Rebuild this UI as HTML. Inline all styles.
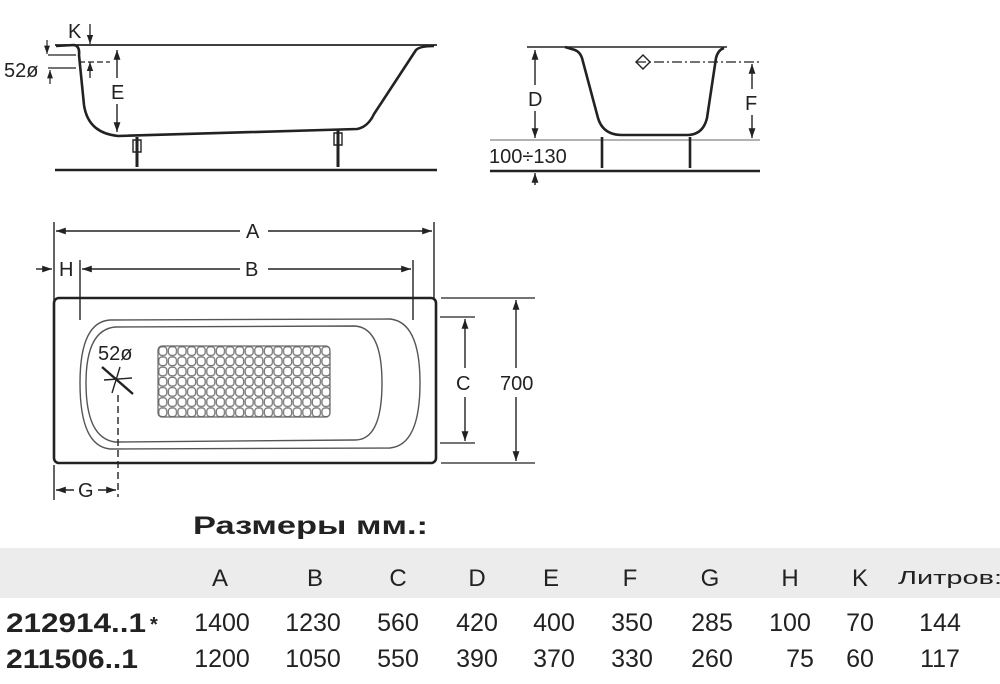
<!DOCTYPE html>
<html><head><meta charset="utf-8"><style>
html,body{margin:0;padding:0;background:#fff;}
svg{display:block;}
text{font-family:"Liberation Sans","DejaVu Sans",sans-serif;fill:#222;}
</style></head><body>
<svg width="1000" height="684" viewBox="0 0 1000 684" xmlns="http://www.w3.org/2000/svg">
<defs>
<marker id="ar" viewBox="0 0 10 10" refX="10" refY="5" markerWidth="7" markerHeight="7" orient="auto-start-reverse"><path d="M0,1.5 L10,5 L0,8.5z" fill="#222"/></marker>
<pattern id="grid" x="158" y="346" width="9.6" height="10.2" patternUnits="userSpaceOnUse"><rect x="0.8" y="0.8" width="8" height="8.6" rx="3" fill="none" stroke="#777" stroke-width="1.3"/></pattern>
</defs>
<g stroke="#222" fill="none" stroke-width="2">
<!-- side view -->
<line x1="55" y1="45" x2="437" y2="45" stroke-width="1.8"/>
<path d="M56,46 L74,45 Q80,46 79,55 L84,105 Q88,133 118,136 L357,129 Q368,127 374,114 L416,50 Q420,46 434,46" stroke-width="2.6"/>
<line x1="55" y1="170" x2="437" y2="170" stroke-width="2.4"/>
<path d="M137,137 V167 M338,130 V167" stroke-width="3"/>
<path d="M133,140 h8 v12 h-8z M334,133 h8 v12 h-8z" stroke-width="1.4"/>
<line x1="117" y1="50" x2="117" y2="132" stroke-width="1.4" marker-start="url(#ar)" marker-end="url(#ar)"/>
<line x1="90" y1="24" x2="90" y2="44" stroke-width="1.3" marker-end="url(#ar)"/>
<line x1="90" y1="62" x2="90" y2="78" stroke-width="1.3" marker-start="url(#ar)"/>
<line x1="79" y1="62" x2="110" y2="62" stroke-width="1.2" stroke-dasharray="6,3"/>
<line x1="47" y1="40" x2="47" y2="54" stroke-width="1.2" marker-end="url(#ar)"/>
<line x1="50" y1="70" x2="50" y2="84" stroke-width="1.2" marker-start="url(#ar)"/>
<path d="M48,55 h28 M48,68 h28" stroke-width="1.2"/>
<!-- end view -->
<line x1="527" y1="47" x2="727" y2="47" stroke-width="1.6"/>
<path d="M565,47 L575,50 Q580,52 582,58 L598,118 Q603,135 622,135 L687,135 Q703,135 707,118 L716,58 Q718,50 724,48" stroke-width="2.6"/>
<line x1="490" y1="140" x2="760" y2="140" stroke="#999" stroke-width="1.6"/>
<line x1="490" y1="171" x2="760" y2="171" stroke-width="2.4"/>
<path d="M602,137 V168 M690,137 V168" stroke-width="2.6"/>
<line x1="535" y1="50" x2="535" y2="138" stroke-width="1.4" marker-start="url(#ar)" marker-end="url(#ar)"/>
<line x1="535" y1="185" x2="535" y2="173" stroke-width="1.4" marker-end="url(#ar)"/>
<line x1="752" y1="64" x2="752" y2="138" stroke-width="1.4" marker-start="url(#ar)" marker-end="url(#ar)"/>
<line x1="636" y1="62" x2="762" y2="62" stroke-width="1.2" stroke-dasharray="10,3,2,3"/>
<path d="M643,55 L650,62 L643,69 L636,62z" stroke-width="1.4"/>
<!-- plan view -->
<rect x="54" y="298" width="382" height="165" rx="5" stroke-width="2.6"/>
<path d="M110,320 L390,319 Q420,322 420,383 Q420,445 390,448 L110,449 Q80,446 80,383 Q80,322 110,320z" stroke="#555" stroke-width="1.4"/>
<path d="M115,327 L355,326 Q382,328 382,383 Q382,440 355,440 L115,442 Q86,438 86,383 Q86,330 115,327z" stroke="#555" stroke-width="1.4"/>
<rect x="158" y="346" width="172" height="71" rx="4" fill="url(#grid)" stroke="#666" stroke-width="1.2"/>
<line x1="102" y1="367" x2="133" y2="394" stroke-width="2.4"/>
<line x1="120" y1="367" x2="112" y2="393" stroke-width="1.4"/>
<line x1="104" y1="380" x2="132" y2="378" stroke-width="1.4"/>
<line x1="118" y1="395" x2="118" y2="497" stroke-width="1.4" stroke-dasharray="7,4"/>
<line x1="54" y1="465" x2="54" y2="500" stroke-width="1.4"/>
<line x1="56" y1="490" x2="74" y2="490" stroke-width="1.4" marker-start="url(#ar)"/>
<line x1="98" y1="490" x2="116" y2="490" stroke-width="1.4" marker-end="url(#ar)"/>
<line x1="54" y1="222" x2="54" y2="300" stroke-width="1.4"/>
<line x1="434" y1="222" x2="434" y2="298" stroke-width="1.4"/>
<line x1="56" y1="231" x2="240" y2="231" stroke-width="1.4" marker-start="url(#ar)"/>
<line x1="268" y1="231" x2="432" y2="231" stroke-width="1.4" marker-end="url(#ar)"/>
<line x1="80" y1="260" x2="80" y2="320" stroke-width="1.4"/>
<line x1="413" y1="260" x2="413" y2="320" stroke-width="1.4"/>
<line x1="82" y1="269" x2="240" y2="269" stroke-width="1.4" marker-start="url(#ar)"/>
<line x1="268" y1="269" x2="411" y2="269" stroke-width="1.4" marker-end="url(#ar)"/>
<line x1="36" y1="269" x2="52" y2="269" stroke-width="1.4" marker-end="url(#ar)"/>
<path d="M440,317 H475 M440,443 H475 M441,298 H535 M441,463 H535" stroke-width="1.3"/>
<line x1="465" y1="319" x2="465" y2="368" stroke-width="1.4" marker-start="url(#ar)"/>
<line x1="465" y1="397" x2="465" y2="441" stroke-width="1.4" marker-end="url(#ar)"/>
<line x1="516" y1="300" x2="516" y2="368" stroke-width="1.4" marker-start="url(#ar)"/>
<line x1="516" y1="397" x2="516" y2="461" stroke-width="1.4" marker-end="url(#ar)"/>
</g>
<g fill="#fff">
<rect x="109" y="78" width="17" height="26"/>
<rect x="526" y="85" width="18" height="26"/>
<rect x="743" y="89" width="18" height="26"/>
</g>
<g font-size="20">
<text x="68" y="38">K</text>
<text x="4" y="77">52ø</text>
<text x="111" y="99">E</text>
<text x="528" y="106">D</text>
<text x="745" y="110">F</text>
<text x="489" y="163">100÷130</text>
<text x="246" y="238">A</text>
<text x="245" y="276">B</text>
<text x="59" y="276">H</text>
<text x="98" y="360">52ø</text>
<text x="78" y="497">G</text>
<text x="456" y="390">C</text>
<text x="500" y="390">700</text>
</g>
<rect x="0" y="548" width="1000" height="50" fill="#ececec"/>
<text x="193" y="534" font-size="25" font-weight="bold" textLength="235" lengthAdjust="spacingAndGlyphs">Размеры мм.:</text>
<g font-size="24" text-anchor="middle">
<text x="220" y="586">A</text><text x="315" y="586">B</text><text x="398" y="586">C</text><text x="477" y="586">D</text><text x="551" y="586">E</text><text x="630" y="586">F</text><text x="710" y="586">G</text><text x="790" y="586">H</text><text x="860" y="586">K</text>
</g>
<text x="898" y="584" font-size="18" textLength="104" lengthAdjust="spacingAndGlyphs">Литров:</text>
<g font-size="27" font-weight="bold">
<text x="6" y="632" textLength="140" lengthAdjust="spacingAndGlyphs">212914..1</text><text x="150" y="631" font-size="20">*</text>
<text x="6" y="668" textLength="132" lengthAdjust="spacingAndGlyphs">211506..1</text>
</g>
<g font-size="25" text-anchor="middle">
<text x="222" y="631">1400</text><text x="313" y="631">1230</text><text x="398" y="631">560</text><text x="477" y="631">420</text><text x="554" y="631">400</text><text x="632" y="631">350</text><text x="712" y="631">285</text><text x="790" y="631">100</text><text x="860" y="631">70</text><text x="940" y="631">144</text>
<text x="222" y="667">1200</text><text x="313" y="667">1050</text><text x="398" y="667">550</text><text x="477" y="667">390</text><text x="554" y="667">370</text><text x="632" y="667">330</text><text x="712" y="667">260</text><text x="800" y="667">75</text><text x="860" y="667">60</text><text x="940" y="667">117</text>
</g>
</svg>
</body></html>
